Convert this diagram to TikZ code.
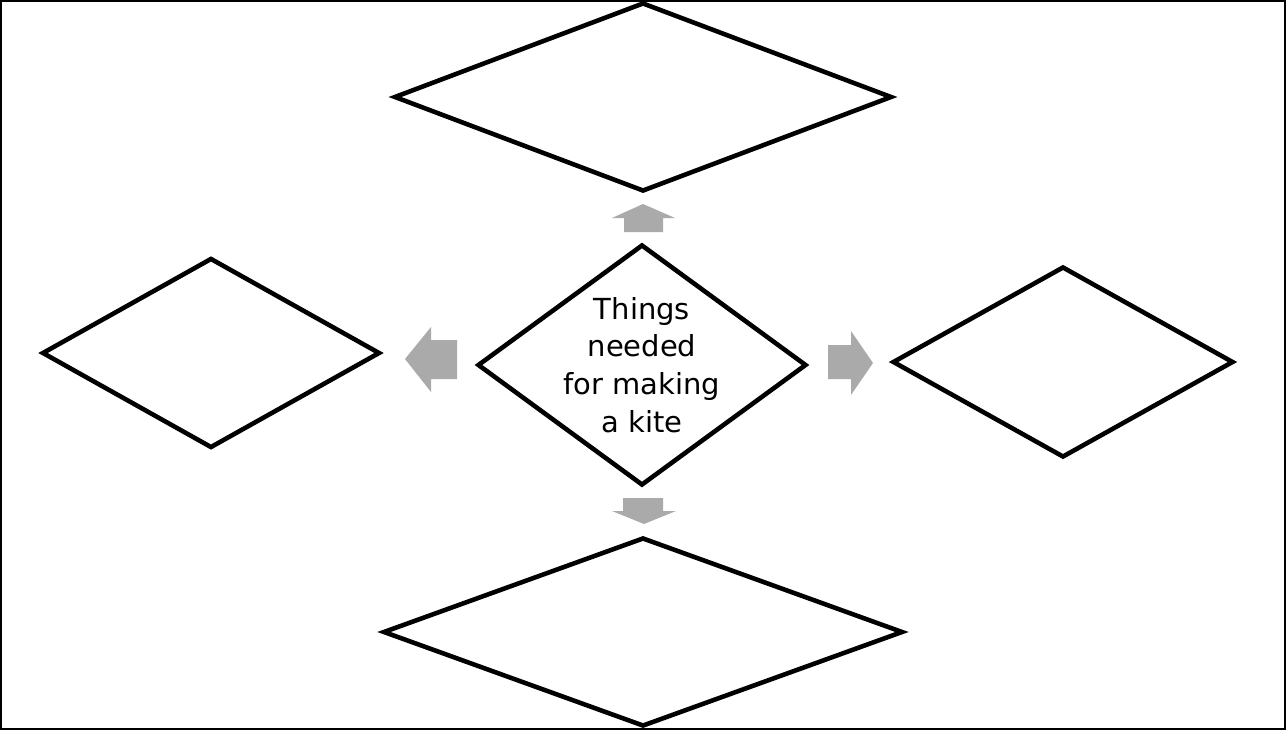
\documentclass[tikz,border=0pt]{standalone}
\usepackage{fontspec}
\setmainfont{DejaVu Sans}
\usetikzlibrary{shapes.geometric}
\definecolor{arrowgray}{RGB}{170,170,170}

\begin{document}
\begin{tikzpicture}[x=0.02cm,y=-0.02cm,
    box/.style={diamond,draw,line width=2.6pt,inner sep=0pt,aspect=1},
    blockarrow/.style={fill=arrowgray}]
    \useasboundingbox (0,0) rectangle (1286,730);
    \draw[line width=1.2pt] (1,1) rectangle (1285,729);
    % the four empty boxes and the centre one
    \node[box,minimum width=9.96cm,minimum height=3.78cm] (top) at (643,97){};
    \node[box,minimum width=6.76cm,minimum height=3.8cm] (left) at (211,353){};
    \node[box,minimum width=6.58cm,minimum height=4.82cm,
      label={[align=center,font=\fontsize{16.5}{21.5}\selectfont]center:Things\\needed\\for making\\a kite}] (kite) at (642,365){};
    \node[box,minimum width=6.82cm,minimum height=3.82cm] (right) at (1063,362){};
    \node[box,minimum width=10.4cm,minimum height=3.78cm] (bottom) at (643,632){};
    % grey block arrows
    \fill[blockarrow] (643,204) -- (675,218) -- (663,218) -- (663,232) -- (624,232) -- (624,218) -- (612,218) -- cycle;
    \fill[blockarrow] (405,359) -- (431,327) -- (431,340) -- (457,340) -- (457,379) -- (431,379) -- (431,392) -- cycle;
    \fill[blockarrow] (873,363) -- (851,331) -- (851,345) -- (828,345) -- (828,379) -- (851,379) -- (851,395) -- cycle;
    \fill[blockarrow] (623,498) -- (663,498) -- (663,511) -- (676,511) -- (644,524) -- (612,511) -- (623,511) -- cycle;
\end{tikzpicture}
\end{document}
